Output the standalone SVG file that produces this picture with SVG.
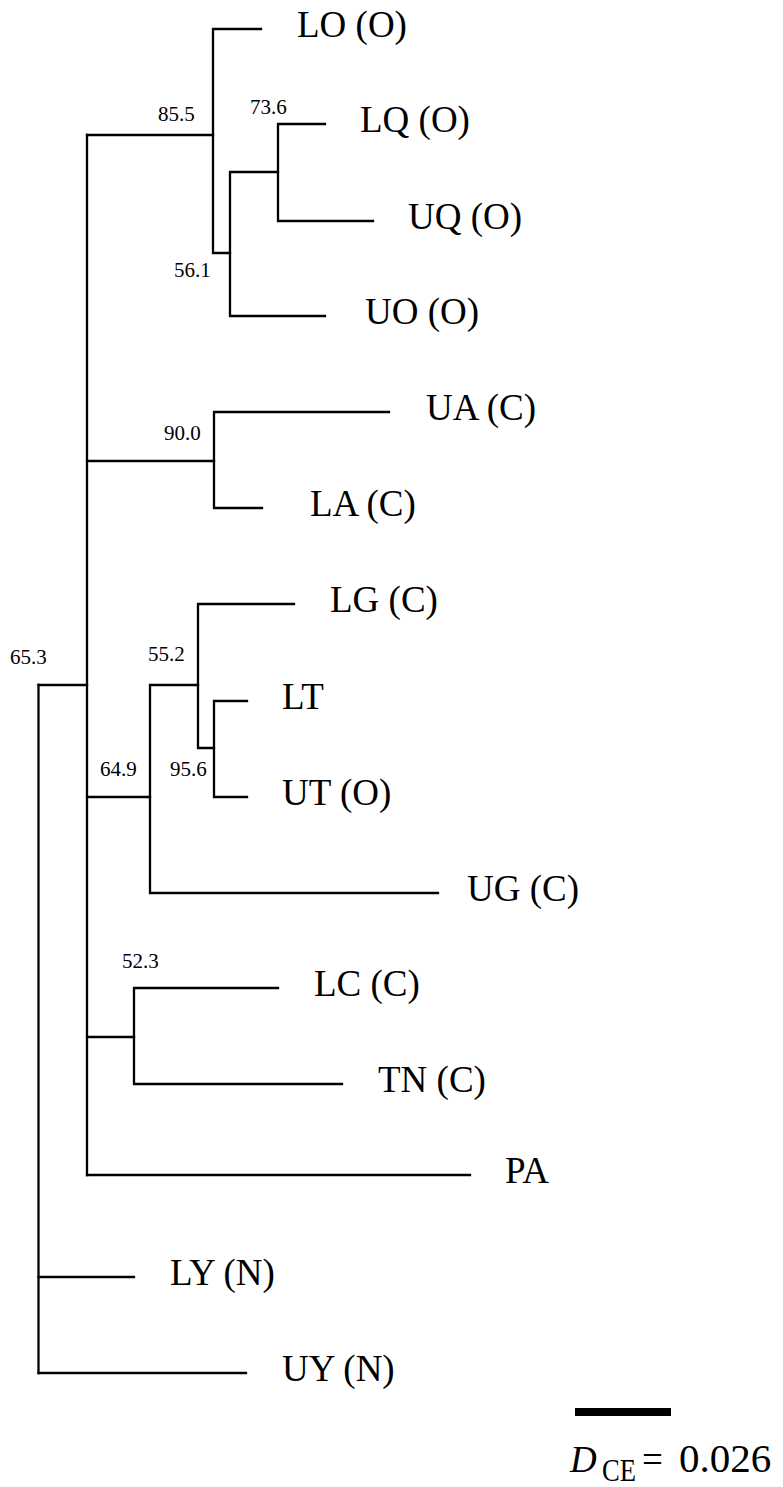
<svg xmlns="http://www.w3.org/2000/svg" width="783" height="1487" viewBox="0 0 783 1487">
<style>
.e{stroke:#000;stroke-width:2.3;fill:none;stroke-linecap:square;stroke-linejoin:miter}
.lab{font-family:'Liberation Serif','DejaVu Serif',serif;font-size:37px;fill:#000}
.bs{font-family:'Liberation Serif','DejaVu Serif',serif;font-size:21px;fill:#000}
</style>
<rect width="783" height="1487" fill="#fff"/>
<g id="connectors">
<path class="e" d="M87,135V1175"/>
<path class="e" d="M38.5,685H87"/>
<path class="e" d="M38.5,685V1373"/>
<path class="e" d="M38.5,1277H134"/>
<path class="e" d="M38.5,1373H246"/>
<path class="e" d="M87,135H213"/>
<path class="e" d="M261,29H213V253H230"/>
<path class="e" d="M325,316H230V172H278"/>
<path class="e" d="M325,124H278V221H373"/>
<path class="e" d="M87,461H214"/>
<path class="e" d="M389,412H214V508H262"/>
<path class="e" d="M87,797H150"/>
<path class="e" d="M198,685H150V893H438"/>
<path class="e" d="M294,604H198V748H214"/>
<path class="e" d="M247,701H214V797H247"/>
<path class="e" d="M87,1037H134"/>
<path class="e" d="M278,988H134V1084H342"/>
<path class="e" d="M87,1175H470"/>
</g>
<g id="node-root"><text class="bs" x="10" y="664">65.3</text></g>
<g id="node-85"><text class="bs" x="158" y="121">85.5</text></g>
<g id="node-56"><text class="bs" x="174" y="277">56.1</text></g>
<g id="node-73"><text class="bs" x="250" y="114">73.6</text></g>
<g id="node-90"><text class="bs" x="164" y="440">90.0</text></g>
<g id="node-64"><text class="bs" x="100" y="776">64.9</text></g>
<g id="node-55"><text class="bs" x="148" y="661">55.2</text></g>
<g id="node-95"><text class="bs" x="170" y="776">95.6</text></g>
<g id="node-52"><text class="bs" x="122" y="968">52.3</text></g>
<g id="leaf-LO"><text class="lab" x="297" y="37">LO (O)</text></g>
<g id="leaf-LQ"><text class="lab" x="360" y="132">LQ (O)</text></g>
<g id="leaf-UQ"><text class="lab" x="408" y="229">UQ (O)</text></g>
<g id="leaf-UO"><text class="lab" x="365" y="324">UO (O)</text></g>
<g id="leaf-UA"><text class="lab" x="426" y="420">UA (C)</text></g>
<g id="leaf-LA"><text class="lab" x="310" y="516">LA (C)</text></g>
<g id="leaf-LG"><text class="lab" x="330" y="612">LG (C)</text></g>
<g id="leaf-LT"><text class="lab" x="282" y="709">LT</text></g>
<g id="leaf-UT"><text class="lab" x="282" y="805">UT (O)</text></g>
<g id="leaf-UG"><text class="lab" x="467" y="901">UG (C)</text></g>
<g id="leaf-LC"><text class="lab" x="314" y="996">LC (C)</text></g>
<g id="leaf-TN"><text class="lab" x="378" y="1092">TN (C)</text></g>
<g id="leaf-PA"><text class="lab" x="505" y="1183">PA</text></g>
<g id="leaf-LY"><text class="lab" x="170" y="1285">LY (N)</text></g>
<g id="leaf-UY"><text class="lab" x="282" y="1381">UY (N)</text></g>
<g id="scale">
<rect x="575" y="1408" width="96" height="8" fill="#000"/>
<text class="lab" x="570" y="1472"><tspan font-style="italic">D</tspan><tspan x="602" y="1481" font-size="31" textLength="34" lengthAdjust="spacingAndGlyphs">CE</tspan><tspan x="642" y="1472">=</tspan><tspan x="679" y="1472" font-size="41">0.026</tspan></text>
</g>
</svg>
